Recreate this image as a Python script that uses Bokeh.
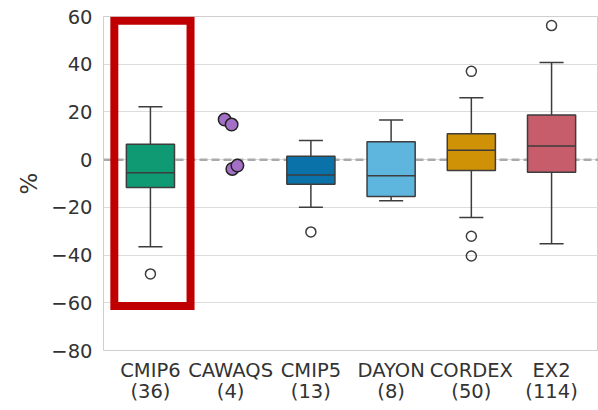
from bokeh.plotting import figure
from bokeh.models import Range1d, ColumnDataSource, FixedTicker, Span
from bokeh.embed import file_html
from bokeh.resources import INLINE

# ---------------- data ----------------
categories = ["CMIP6", "CAWAQS", "CMIP5", "DAYON", "CORDEX", "EX2"]
counts = [36, 4, 13, 8, 50, 114]

box_cats = ["CMIP6", "CMIP5", "DAYON", "CORDEX", "EX2"]
box_colors = ["#0f9a73", "#0a72a8", "#5eb6df", "#cf9106", "#c75d6a"]
q1 = [-11.7, -10.3, -15.4, -4.6, -5.3]
median = [-5.5, -6.4, -6.7, 3.9, 5.7]
q3 = [6.5, 1.4, 7.5, 10.9, 18.7]
whisk_lo = [-36.5, -20.0, -17.2, -24.3, -35.3]
whisk_hi = [22.2, 8.0, 16.6, 25.9, 40.7]

outlier_cats = ["CMIP6", "CMIP5", "CORDEX", "CORDEX", "CORDEX", "EX2"]
outlier_vals = [-47.9, -30.3, 37.0, -32.1, -40.4, 56.2]

point_cat = "CAWAQS"
point_vals = [16.8, 14.7, -3.9, -2.5]
point_jitter = [-0.075, 0.012, 0.021, 0.084]

highlight_cat = "CMIP6"
highlight_top = 58.2
highlight_bottom = -61.3

y_ticks = [-80, -60, -40, -20, 0, 20, 40, 60]

# ---------------- styling ----------------
BOX_W = 0.6
CAP_W = 0.3
EDGE = "#3d3d3d"
TXT = "#333333"
FONT = "DejaVu Sans"

idx = {c: i for i, c in enumerate(categories)}
bx = [idx[c] for c in box_cats]

box_src = ColumnDataSource(dict(
    x=bx,
    left=[x - BOX_W / 2 for x in bx], right=[x + BOX_W / 2 for x in bx],
    cl=[x - CAP_W / 2 for x in bx], cr=[x + CAP_W / 2 for x in bx],
    q1=q1, q3=q3, med=median, lo=whisk_lo, hi=whisk_hi, color=box_colors,
))

p = figure(width=598, height=410, output_backend="svg", toolbar_location=None,
           x_range=Range1d(-0.585, 5.585), y_range=Range1d(-80, 60),
           min_border_left=103, min_border_right=0, min_border_top=16,
           min_border_bottom=60, background_fill_color="white",
           border_fill_color="white")

p.outline_line_color = "#cfcfcf"
p.outline_line_width = 1
p.xgrid.grid_line_color = None
p.ygrid.grid_line_color = "#dcdcdc"
p.ygrid.grid_line_width = 1

p.yaxis.ticker = FixedTicker(ticks=y_ticks)
p.xaxis.ticker = FixedTicker(ticks=list(range(len(categories))))
p.xaxis.major_label_overrides = {i: f"{c}\n({n})" for i, (c, n) in enumerate(zip(categories, counts))}
p.yaxis.major_label_overrides = {v: str(v).replace("-", "\u2212") for v in y_ticks}

for ax in (p.xaxis[0], p.yaxis[0]):
    ax.axis_line_color = None
    ax.major_tick_line_color = None
    ax.minor_tick_line_color = None
    ax.major_tick_out = 0
    ax.major_tick_in = 0
    ax.major_label_text_font = FONT
    ax.major_label_text_font_size = "19.5px"
    ax.major_label_text_color = TXT
p.xaxis.major_label_text_line_height = 0.95
p.yaxis.major_label_standoff = 11
p.xaxis.major_label_standoff = 8
p.yaxis.axis_label = "%"
p.yaxis.axis_label_text_font = FONT
p.yaxis.axis_label_text_font_size = "23px"
p.yaxis.axis_label_text_font_style = "normal"
p.yaxis.axis_label_text_color = TXT
p.yaxis.axis_label_standoff = 6

# zero line
p.add_layout(Span(location=0, dimension="width", line_color="#aaaaaa",
                  line_width=2.5, line_dash="8 4", level="underlay"))

# whiskers and caps
p.segment(x0="x", y0="q3", x1="x", y1="hi", source=box_src, line_color=EDGE, line_width=1.5)
p.segment(x0="x", y0="q1", x1="x", y1="lo", source=box_src, line_color=EDGE, line_width=1.5)
p.segment(x0="cl", y0="hi", x1="cr", y1="hi", source=box_src, line_color=EDGE, line_width=1.5)
p.segment(x0="cl", y0="lo", x1="cr", y1="lo", source=box_src, line_color=EDGE, line_width=1.5)
# boxes
p.quad(left="left", right="right", bottom="q1", top="q3", source=box_src,
       fill_color="color", line_color=EDGE, line_width=1.5)
p.segment(x0="left", y0="med", x1="right", y1="med", source=box_src, line_color=EDGE, line_width=1.5)

# outliers
p.scatter([idx[c] for c in outlier_cats], outlier_vals, size=10, fill_color="white",
          fill_alpha=0, line_color=EDGE, line_width=1.5)

# strip points
px = [idx[point_cat] + j for j in point_jitter]
p.scatter(px, point_vals, size=12.5, fill_color="#a46fc6", line_color="#222222", line_width=1.5)

# highlight rectangle
hx = idx[highlight_cat]
p.quad(left=[hx - 0.45], right=[hx + 0.5], bottom=[highlight_bottom], top=[highlight_top],
       fill_color=None, line_color="#c00000", line_width=8, line_join="miter")

open("out.html", "w").write(file_html(p, INLINE))
